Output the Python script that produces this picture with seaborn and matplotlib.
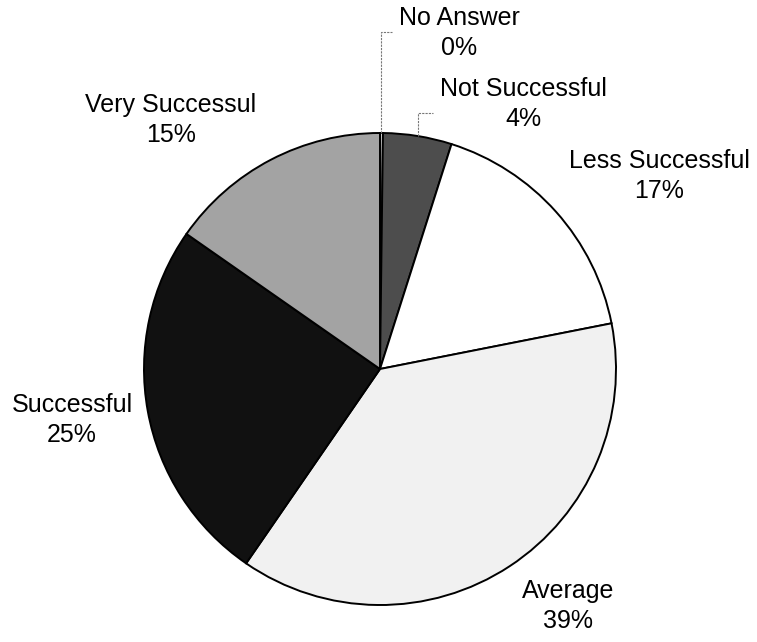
import matplotlib
matplotlib.use("Agg")
import matplotlib.pyplot as plt
import seaborn as sns
import numpy as np

categories = ["No Answer", "Not Successful", "Less Successful", "Average", "Successful", "Very Successul"]
shares = [0.2, 4.7, 17.0, 37.7, 25.1, 15.3]
pct_labels = ["0%", "4%", "17%", "39%", "25%", "15%"]
colors = ["#dcdcdc", "#4d4d4d", "#ffffff", "#f1f1f1", "#111111", "#a3a3a3"]

sns.set_theme(style="white")
plt.rcParams['font.family'] = ['Liberation Sans', 'DejaVu Sans']

W, H = 757, 642
R = 236.0
CX, CY = 380.0, 369.0

def px(x, y):
    return (x - CX) / R, (CY - y) / R

fig = plt.figure(figsize=(W / 100, H / 100), dpi=100)
ax = fig.add_axes([0, 0, 1, 1])
wedges, _ = ax.pie(shares, colors=colors, startangle=90, counterclock=False,
                   radius=1.0, center=(0, 0),
                   wedgeprops=dict(edgecolor="black", linewidth=1.4))
ax.set_xlim(-CX / R, (W - CX) / R)
ax.set_ylim(-(H - CY) / R, CY / R)
ax.set_aspect("equal")
ax.axis("off")

# label block centres (pixel layout)
label_pos = [(459, 33), (523, 104), (659, 176), (568, 606), (72, 420), (171, 120)]
for name, pct, (lx, ly) in zip(categories, pct_labels, label_pos):
    x, y = px(lx, ly)
    ax.text(x, y, f"{name}\n{pct}", ha="center", va="center", fontsize=18,
            linespacing=1.32, color="black")

# leader lines for the two small slices
leader = {0: (32, 392), 1: (113, 433)}
for i, (ly, lx_end) in leader.items():
    w = wedges[i]
    th = np.deg2rad((w.theta1 + w.theta2) / 2)
    ex, ey = np.cos(th), np.sin(th)
    _, yl = px(0, ly)
    xe, _ = px(lx_end, 0)
    ax.plot([ex, ex, xe], [ey, yl, yl], color="#777777", lw=0.8, ls=(0, (2, 1)))

fig.savefig("out.png", dpi=100)
